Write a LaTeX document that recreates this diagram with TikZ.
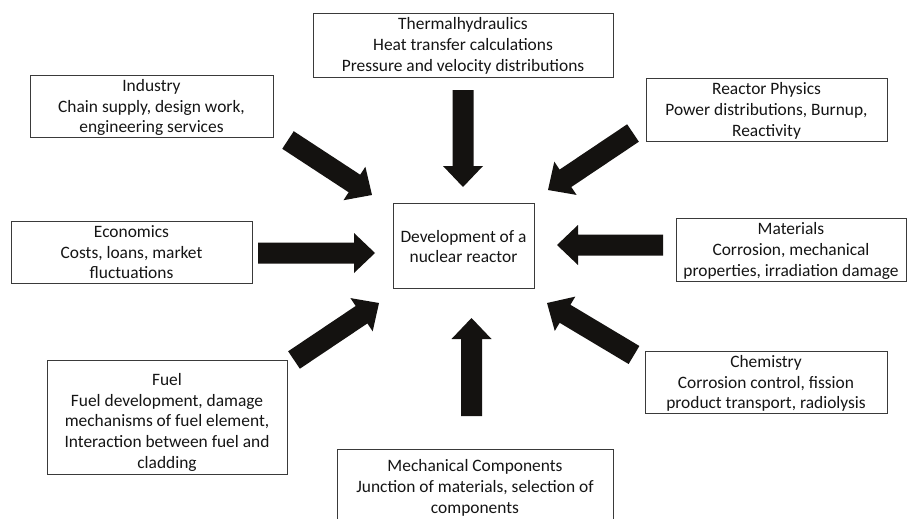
\documentclass[tikz,border=0pt]{standalone}
\usepackage{fontspec}
\setmainfont{Carlito}
\usetikzlibrary{calc}
\definecolor{ink}{HTML}{151515}
\definecolor{edge}{HTML}{3A3A3A}
\definecolor{arrowink}{HTML}{141210}
\tikzset{
  infobox/.style={draw=edge, line width=0.9pt, align=center, inner sep=0pt,
    text=ink, font=\fontsize{17.4}{20.8}\selectfont},
  infotext/.style={align=center, inner sep=0pt, text=ink,
    font=\fontsize{17.4}{20.8}\selectfont},
  arrowfill/.style={fill=arrowink}
}
\newcommand\tb{\rule{0pt}{16pt}}
\newcommand\te{\rule[-5pt]{0pt}{5pt}}
% block arrow from tail coordinate #1 to tip coordinate #2
\newcommand\blockarrow[2]{%
  \path let \p1=($(#2)-(#1)$) in \pgfextra{%
    \pgfmathsetmacro\baang{atan2(\y1,\x1)}%
    \pgfmathsetmacro\balen{veclen(\x1,\y1)}%
    \global\let\baang\baang\global\let\balen\balen};
  \fill[arrowfill, shift={(#1)}, rotate=\baang]
    (0pt,-10.5pt) -- ({\balen pt-21pt},-10.5pt) -- ({\balen pt-21pt},-20pt)
    -- ({\balen pt},0pt) -- ({\balen pt-21pt},20pt) -- ({\balen pt-21pt},10.5pt)
    -- (0pt,10.5pt) -- cycle;
}
\begin{document}
\begin{tikzpicture}[x=1pt,y=-1pt]
\useasboundingbox (0,0) rectangle (907,519);
\clip (0,0) rectangle (907,519);
\fill[white] (0,0) rectangle (907,519);

\node[infobox, minimum width=300pt, minimum height=64pt] (thermal) at (463,45)
  {\tb Thermalhydraulics\\Heat transfer calculations\\Pressure and velocity distributions\te};
\node[infobox, minimum width=243pt, minimum height=62pt] (industry) at (151.5,106.5)
  {\tb Industry\\Chain supply, design work,\\engineering services\te};
\node[infobox, minimum width=241pt, minimum height=60pt] (physics) at (766.5,110)
  {\tb Reactor Physics\\Power distributions, Burnup,\\Reactivity\te};
\node[infobox, minimum width=241pt, minimum height=61pt] (economics) at (131.5,252.5)
  {\tb Economics\\Costs, loans, market\\fluctuations\te};
\node[infobox, minimum width=141pt, minimum height=85pt] (center) at (463.5,245.5)
  {\rule{0pt}{19pt}Development of a\\nuclear reactor\te};
\node[infobox, minimum width=230pt, minimum height=60pt] (materials) at (791,250)
  {\tb Materials\\Corrosion, mechanical\\properties, irradiation damage\te};
\node[infobox, minimum width=242pt, minimum height=61pt] (chemistry) at (766,382.5)
  {\tb Chemistry\\Corrosion control, fission\\product transport, radiolysis\te};
\node[draw=edge, line width=0.9pt, minimum width=240pt, minimum height=114pt] (fuel) at (167,417) {};
\node[infotext] (fueltext) at (167,421.4)
  {\tb Fuel\\Fuel development, damage\\mechanisms of fuel element,\\Interaction between fuel and\\cladding\te};
\node[infobox, minimum width=276pt, minimum height=76pt] (mech) at (475,487)
  {\tb Mechanical Components\\Junction of materials, selection of\\components\te};

% arrow end points
\coordinate (tT) at (463,90);    \coordinate (tP) at (463,187);
\coordinate (iT) at (288,140);   \coordinate (iP) at (372,195);
\coordinate (rT) at (633,133);   \coordinate (rP) at (548,190);
\coordinate (eT) at (258,253);   \coordinate (eP) at (375,253);
\coordinate (mT) at (663,245);   \coordinate (mP) at (557,245);
\coordinate (fT) at (294,360);   \coordinate (fP) at (379,303);
\coordinate (cT) at (634,355);   \coordinate (cP) at (547,303);
\coordinate (bT) at (471.5,416); \coordinate (bP) at (471.5,318);

\blockarrow{tT}{tP}
\blockarrow{iT}{iP}
\blockarrow{rT}{rP}
\blockarrow{eT}{eP}
\blockarrow{mT}{mP}
\blockarrow{fT}{fP}
\blockarrow{cT}{cP}
\blockarrow{bT}{bP}
\end{tikzpicture}
\end{document}
